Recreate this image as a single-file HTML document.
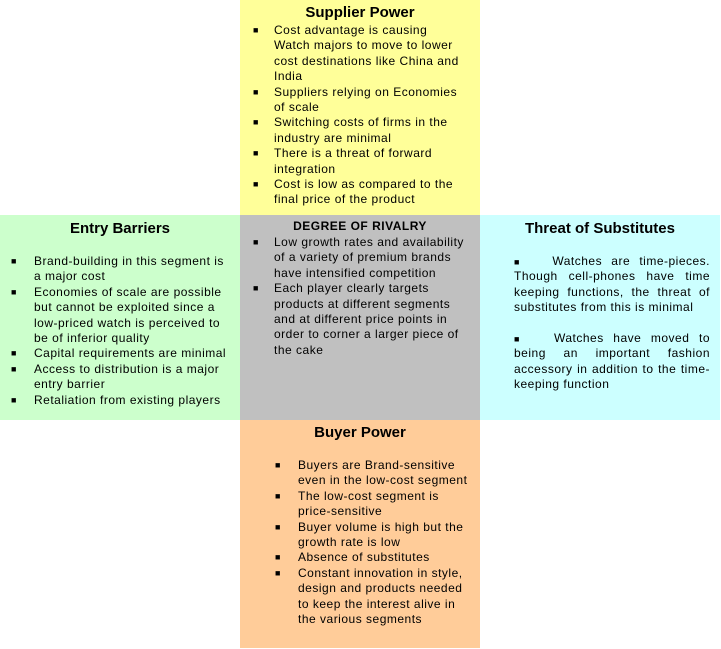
<!DOCTYPE html>
<html><head><meta charset="utf-8"><style>
body{margin:0;width:721px;height:649px;background:#fff;position:relative;overflow:hidden;font-family:"Liberation Sans",Arial,sans-serif;color:#000}
.box{position:absolute}
.t{position:absolute;font-size:12px;line-height:15.4px;white-space:nowrap;letter-spacing:0.5px}
.b{position:absolute;font-size:9px;line-height:15.4px}
.h{position:absolute;font-weight:bold;font-size:15px;text-align:center;white-space:nowrap}
.j{text-align:justify;text-align-last:justify;width:196px;white-space:nowrap;height:15.4px}
</style></head><body>
<div class="box" style="left:240px;top:0;width:240px;height:215px;background:#ffff99"></div>
<div class="box" style="left:0;top:215px;width:240px;height:205px;background:#ccffcc"></div>
<div class="box" style="left:240px;top:215px;width:240px;height:205px;background:#c0c0c0"></div>
<div class="box" style="left:480px;top:215px;width:240px;height:205px;background:#ccffff"></div>
<div class="box" style="left:240px;top:420px;width:240px;height:228px;background:#ffcc99"></div>

<div class="h" style="left:240px;width:240px;top:4px">Supplier Power</div>
<div class="t" style="left:274px;top:23px">Cost advantage is causing<br>Watch majors to move to lower<br>cost destinations like China and<br>India<br>Suppliers relying on Economies<br>of scale<br>Switching costs of firms in the<br>industry are minimal<br>There is a threat of forward<br>integration<br>Cost is low as compared to the<br>final price of the product</div>
<div class="b" style="left:253px;top:23px">■<br><br><br><br>■<br><br>■<br><br>■<br><br>■</div>

<div class="h" style="left:0;width:240px;top:220px">Entry Barriers</div>
<div class="t" style="left:34px;top:254px">Brand-building in this segment is<br>a major cost<br>Economies of scale are possible<br>but cannot be exploited since a<br>low-priced watch is perceived to<br>be of inferior quality<br>Capital requirements are minimal<br>Access to distribution is a major<br>entry barrier<br>Retaliation from existing players</div>
<div class="b" style="left:11px;top:254px">■<br><br>■<br><br><br><br>■<br>■<br><br>■</div>

<div class="h" style="left:240px;width:240px;top:219px;font-size:12px;letter-spacing:0.5px">DEGREE OF RIVALRY</div>
<div class="t" style="left:274px;top:235px">Low growth rates and availability<br>of a variety of premium brands<br>have intensified competition<br>Each player clearly targets<br>products at different segments<br>and at different price points in<br>order to corner a larger piece of<br>the cake</div>
<div class="b" style="left:253px;top:235px">■<br><br><br>■</div>

<div class="h" style="left:480px;width:240px;top:220px">Threat of Substitutes</div>
<div class="t" style="left:514px;top:254px">
<div class="j"><span style="font-size:9px;letter-spacing:0">■</span>&nbsp;&nbsp;&nbsp;Watches are time-pieces.</div>
<div class="j">Though cell-phones have time</div>
<div class="j">keeping functions, the threat of</div>
<div style="height:15.4px">substitutes from this is minimal</div>
<div style="height:15.4px"></div>
<div class="j"><span style="font-size:9px;letter-spacing:0">■</span>&nbsp;&nbsp;&nbsp;Watches have moved to</div>
<div class="j">being an important fashion</div>
<div class="j">accessory in addition to the time-</div>
<div style="height:15.4px">keeping function</div>
</div>

<div class="h" style="left:240px;width:240px;top:424px">Buyer Power</div>
<div class="t" style="left:298px;top:458px">Buyers are Brand-sensitive<br>even in the low-cost segment<br>The low-cost segment is<br>price-sensitive<br>Buyer volume is high but the<br>growth rate is low<br>Absence of substitutes<br>Constant innovation in style,<br>design and products needed<br>to keep the interest alive in<br>the various segments</div>
<div class="b" style="left:275px;top:458px">■<br><br>■<br><br>■<br><br>■<br>■</div>
</body></html>
